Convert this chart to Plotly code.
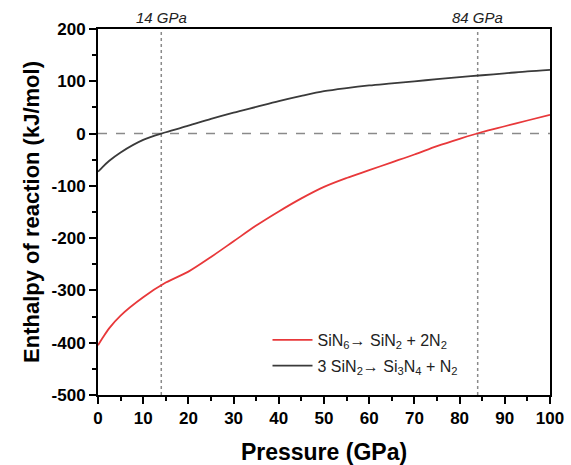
import plotly.graph_objects as go

# Pressure grid (GPa)
pressure = [0, 1, 2.5, 5, 10, 15, 20, 25, 30, 35, 40, 45, 50, 55, 60, 65,
            70, 75, 80, 85, 90, 95, 100]

# Enthalpy of reaction (kJ/mol)
h_sin6 = [-405, -391, -372, -348, -313, -285, -264, -236, -206, -176, -149,
          -124, -102, -85, -70, -55, -40, -24, -10, 3, 14, 25, 36]
h_sin2 = [-73, -64, -52, -36, -12, 2.5, 15, 28, 40, 51, 62, 72, 81, 87, 92,
          96, 100, 104, 108, 111.5, 115, 119, 122]

series_names = ["SiN<sub>6</sub>\u2192 SiN<sub>2</sub> + 2N<sub>2</sub>",
                "3 SiN<sub>2</sub>\u2192 Si<sub>3</sub>N<sub>4</sub> + N<sub>2</sub>"]
crossings = [14, 84]
crossing_labels = ["14 GPa", "84 GPa"]

x_ticks = list(range(0, 101, 10))
y_ticks = list(range(-500, 201, 100))

FONT = "Liberation Sans, Arial, sans-serif"

fig = go.Figure()
fig.add_trace(go.Scatter(x=pressure, y=h_sin6, mode="lines",
                         name=series_names[0], legendgroup="a",
                         line=dict(color="#e8383a", width=1.8, shape="spline",
                                   smoothing=0.9)))
fig.add_trace(go.Scatter(x=pressure, y=h_sin2, mode="lines",
                         name=series_names[1], legendgroup="b",
                         line=dict(color="#3a3a3a", width=1.8, shape="spline",
                                   smoothing=0.9)))

# zero line
fig.add_shape(type="line", xref="x", yref="y", x0=0, x1=100, y0=0, y1=0,
              line=dict(color="#8a8a8a", width=1.5, dash="dash"), layer="below")

# transition pressures
for xc, lab in zip(crossings, crossing_labels):
    fig.add_shape(type="line", xref="x", yref="y", x0=xc, x1=xc, y0=-500, y1=200,
                  line=dict(color="#8a8a8a", width=1.5, dash="dot"), layer="below")
    fig.add_annotation(x=xc, y=1, xref="x", yref="paper", text=lab,
                       showarrow=False, yanchor="bottom", yshift=1,
                       font=dict(family=FONT, size=15, color="#222222",
                                 style="italic"))

axis_common = dict(showgrid=False, zeroline=False, showline=True,
                   linecolor="black", linewidth=2, mirror=True,
                   ticks="outside", ticklen=7, tickwidth=2, tickcolor="black",
                   automargin=False,
                   tickfont=dict(family=FONT, size=17, color="black"))

fig.update_xaxes(range=[0, 100], tickvals=x_ticks,
                 ticktext=[f"<b>{v}</b>" for v in x_ticks],
                 minor=dict(dtick=5, ticks="outside", ticklen=4, tickwidth=2,
                            tickcolor="black"),
                 title=dict(text="<b>Pressure (GPa)</b>", standoff=20,
                            font=dict(family=FONT, size=23, color="black")),
                 **axis_common)
fig.update_yaxes(range=[-500, 200], tickvals=y_ticks,
                 ticktext=[f"<b>{v}</b>" for v in y_ticks],
                 minor=dict(dtick=50, ticks="outside", ticklen=4, tickwidth=2,
                            tickcolor="black"),
                 title=dict(text="<b>Enthalpy of reaction (kJ/mol)</b>", standoff=6,
                            font=dict(family=FONT, size=22, color="black")),
                 **axis_common)

fig.update_layout(
    width=571, height=465,
    margin=dict(l=98, r=21, t=29, b=70),
    paper_bgcolor="white", plot_bgcolor="white",
    showlegend=True,
    legend=dict(x=0.375, y=0.197, xanchor="left", yanchor="top",
                bgcolor="rgba(0,0,0,0)", tracegroupgap=2, itemwidth=40,
                font=dict(family=FONT, size=16, color="#222222")),
)

fig.write_html("out.html")
